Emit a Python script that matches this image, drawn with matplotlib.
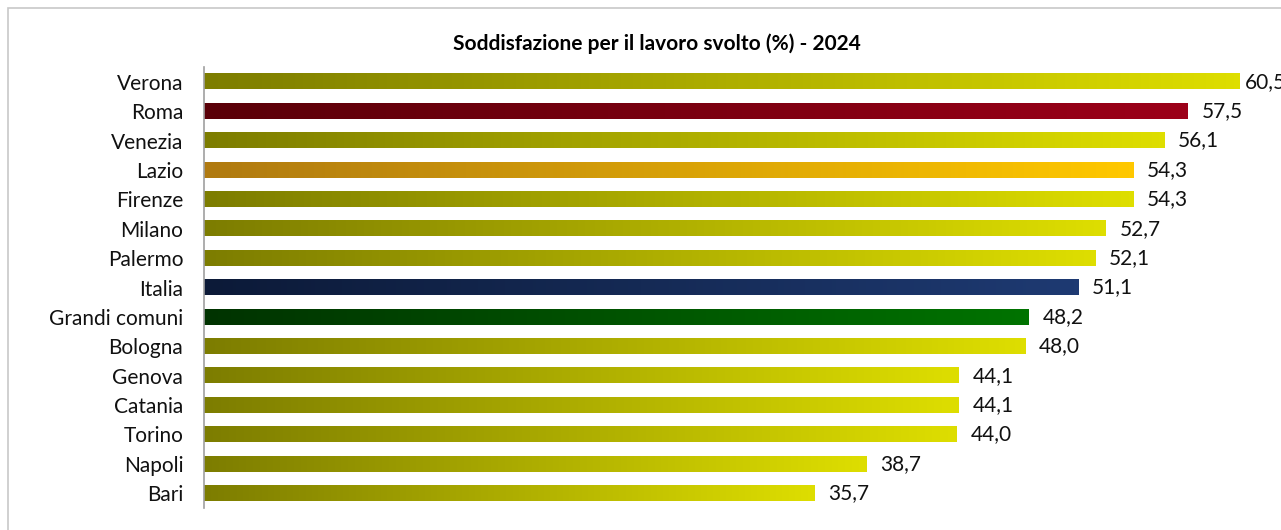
import numpy as np
import matplotlib.pyplot as plt
from matplotlib.colors import LinearSegmentedColormap
from matplotlib.patches import Rectangle

# Data
categories = ["Verona", "Roma", "Venezia", "Lazio", "Firenze", "Milano", "Palermo",
              "Italia", "Grandi comuni", "Bologna", "Genova", "Catania", "Torino",
              "Napoli", "Bari"]
values = [60.5, 57.5, 56.1, 54.3, 54.3, 52.7, 52.1, 51.1, 48.2, 48.0,
          44.1, 44.1, 44.0, 38.7, 35.7]

# gradient (left, right) per category
default_grad = ("#7d7d00", "#dede00")
special_grad = {
    "Roma": ("#5a0008", "#9c0019"),
    "Lazio": ("#b07a10", "#ffc800"),
    "Italia": ("#0c1a38", "#1e3a72"),
    "Grandi comuni": ("#003300", "#007300"),
}

fig = plt.figure(figsize=(12.81, 5.30), dpi=100)
ax = fig.add_axes([204 / 1281, 1 - 508 / 530, (1265 - 204) / 1281, (508 - 67) / 530])

n = len(categories)
bar_h = 0.52
grad = np.linspace(0, 1, 256).reshape(1, -1)
for i, (cat, val) in enumerate(zip(categories, values)):
    y = n - 1 - i
    c0, c1 = special_grad.get(cat, default_grad)
    cmap = LinearSegmentedColormap.from_list(cat, [c0, c1])
    ax.imshow(grad, cmap=cmap, aspect="auto", interpolation="bicubic",
              extent=(0, val, y - bar_h / 2, y + bar_h / 2), zorder=2)
    # the top label sits a little closer to its bar, as in the original
    off = 0.3 if val == max(values) else 0.8
    ax.text(val + off, y, f"{val:.1f}".replace(".", ","), va="center", ha="left",
            fontsize=15, family="Lato", color="#111111", clip_on=False)

ax.set_xlim(0, 62)
ax.set_ylim(-0.5, n - 0.5)
ax.set_yticks(range(n))
ax.set_yticklabels(categories[::-1], fontsize=15, family="Lato", color="#111111")
ax.tick_params(axis="y", length=0, pad=15)
ax.set_xticks([])
for s in ["top", "right", "bottom"]:
    ax.spines[s].set_visible(False)
ax.spines["left"].set_color("#a0a0a0")
ax.spines["left"].set_linewidth(1.2)

fig.text(657 / 1281, 1 - 44 / 530, "Soddisfazione per il lavoro svolto (%) - 2024",
         ha="center", va="center", fontsize=15, fontweight="bold", family="Lato")

# chart border (right and bottom edges fall outside the picture)
fig.patches.append(Rectangle((8 / 1281, -0.1), 1.5, 1.1 - 8 / 530, transform=fig.transFigure,
                             fill=False, edgecolor="#c8c8c8", linewidth=1.2))

fig.savefig("out.png", dpi=100)
